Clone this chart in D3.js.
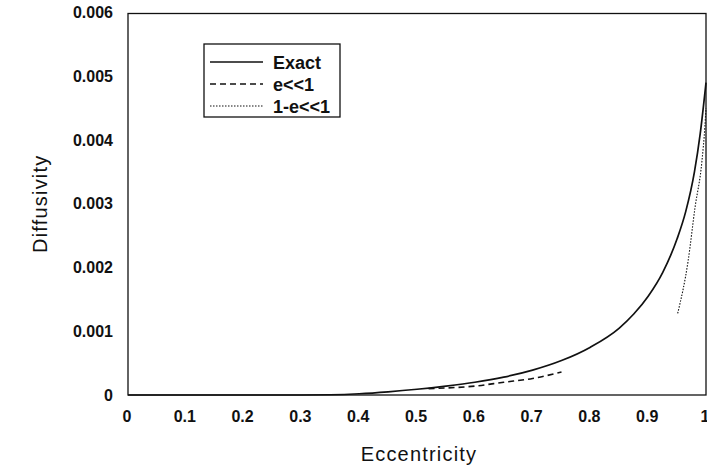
<!DOCTYPE html>
<html>
<head>
<meta charset="utf-8">
<script src="https://cdn.jsdelivr.net/npm/d3@7"></script>
<style>
  body { margin: 0; background: #fff; }
  svg text { font-family: "Liberation Sans", Arial, sans-serif; fill: #111; }
</style>
</head>
<body>
<div id="chart"></div>
<script>
// values
const exactE = [0, 0.3, 0.35, 0.4, 0.45, 0.5, 0.55, 0.6, 0.65, 0.7, 0.75, 0.8, 0.85, 0.875, 0.9, 0.925, 0.95, 0.965, 0.98, 0.99, 1.0]
const exactD = [0, 0, 0.000004, 0.00002, 0.00005, 0.00009, 0.00014, 0.0002, 0.00028, 0.00039, 0.00054, 0.00075, 0.00105, 0.00127, 0.00155, 0.00192, 0.00245, 0.00288, 0.0035, 0.0041, 0.0049]
const smallE = [0.52, 0.55, 0.6, 0.65, 0.7, 0.75]
const smallD = [0.0001, 0.00011, 0.00014, 0.0002, 0.00026, 0.00036]
const nearOneE = [0.951, 0.969, 0.981, 0.993, 0.998, 1.0]
const nearOneD = [0.00128, 0.0021, 0.00294, 0.00367, 0.0042, 0.0045]
const xTicks = [0, 0.1, 0.2, 0.3, 0.4, 0.5, 0.6, 0.7, 0.8, 0.9, 1]
const yTicks = [0, 0.001, 0.002, 0.003, 0.004, 0.005, 0.006]
const legendLabels = ["Exact", "e<<1", "1-e<<1"]

const width = 707
const height = 470
const margin = { top: 12.5, right: 1, bottom: 75, left: 128 }

const svg = d3.select("#chart")
  .append("svg")
  .attr("width", width)
  .attr("height", height)

const x = d3.scaleLinear()
  .domain([0, 1])
  .range([margin.left, width - margin.right])
const y = d3.scaleLinear()
  .domain([0, 0.006])
  .range([height - margin.bottom, margin.top])

// frame
svg.append("rect")
  .attr("x", x(0))
  .attr("y", y(0.006) + 1)
  .attr("width", x(1) - x(0))
  .attr("height", y(0) - y(0.006) - 1)
  .attr("fill", "none")
  .attr("stroke", "#111")
  .attr("stroke-width", 1.3)

// axes, labels only
const xAxis = svg.append("g")
  .attr("transform", `translate(0,${y(0)})`)
  .call(d3.axisBottom(x).tickValues(xTicks).tickSize(0).tickPadding(16)
    .tickFormat(d => d3.format("")(d)))
xAxis.select(".domain").remove()
xAxis.selectAll("text")
  .attr("dx", "-1.5")
  .style("font-size", "16px")
  .style("font-weight", "bold")
  .attr("fill", "#111")

const yAxis = svg.append("g")
  .attr("transform", `translate(${x(0)},0)`)
  .call(d3.axisLeft(y).tickValues(yTicks).tickSize(0).tickPadding(15)
    .tickFormat(d => d === 0 ? "0" : d3.format(".3f")(d)))
yAxis.select(".domain").remove()
yAxis.selectAll("text")
  .style("font-size", "16px")
  .style("font-weight", "bold")
  .attr("fill", "#111")

svg.append("text")
  .attr("x", 419)
  .attr("y", 461)
  .attr("text-anchor", "middle")
  .style("font-size", "20px")
  .style("letter-spacing", "1.2px")
  .text("Eccentricity")

svg.append("text")
  .attr("transform", `translate(47,${(y(0) + y(0.006)) / 2}) rotate(-90)`)
  .attr("text-anchor", "middle")
  .style("font-size", "20px")
  .style("letter-spacing", "1.2px")
  .text("Diffusivity")

// lines
const line = d3.line()
  .x(d => x(d[0]))
  .y(d => y(d[1]))
  .curve(d3.curveMonotoneX)

const series = [
  { e: exactE, d: exactD, dash: null, w: 1.7 },
  { e: smallE, d: smallD, dash: "6,4", w: 1.6 },
  { e: nearOneE, d: nearOneD, dash: "1.5,1.5", w: 1.1 },
]

series.forEach(s => {
  svg.append("path")
    .datum(d3.zip(s.e, s.d))
    .attr("d", line)
    .attr("fill", "none")
    .attr("stroke", "#111")
    .attr("stroke-width", s.w)
    .attr("stroke-dasharray", s.dash)
})

// legend
const legend = svg.append("g").attr("transform", "translate(204,44)")
legend.append("rect")
  .attr("width", 136)
  .attr("height", 73)
  .attr("fill", "#fff")
  .attr("stroke", "#111")
  .attr("stroke-width", 1.3)

legendLabels.forEach((label, i) => {
  const ly = 18 + i * 22
  legend.append("line")
    .attr("x1", 6).attr("x2", 59)
    .attr("y1", ly).attr("y2", ly)
    .attr("stroke", "#111")
    .attr("stroke-width", series[i].w)
    .attr("stroke-dasharray", series[i].dash)
  legend.append("text")
    .attr("x", 69)
    .attr("y", ly + 6.5)
    .style("font-size", "18px")
    .style("font-weight", "bold")
    .text(label)
})
</script>
</body>
</html>
